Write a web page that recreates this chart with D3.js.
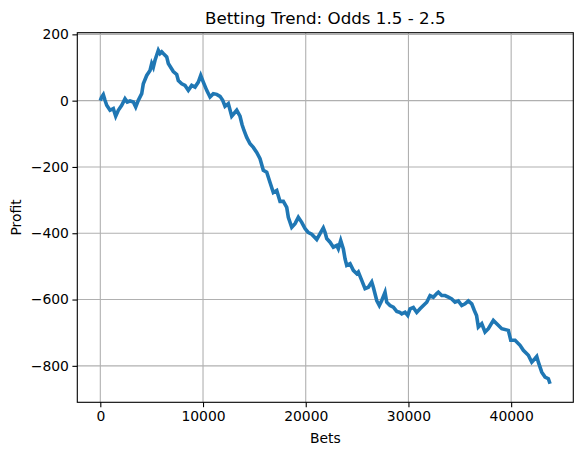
<!DOCTYPE html>
<html>
<head>
<meta charset="utf-8">
<script src="https://cdn.jsdelivr.net/npm/d3@7"></script>
<style>
  body { margin: 0; background: #fff; }
  svg { display: block; font-family: "DejaVu Sans", sans-serif; }
</style>
</head>
<body>
<svg id="chart" width="583" height="455"></svg>
<script>
// Cumulative profit at roughly 300-bet steps.
const bets = [
  0, 117, 292, 458, 623, 945, 1266, 1500, 1753, 2084, 2405, 2629, 2892, 3213, 3447, 3700,
  4031, 4187, 4518, 4839, 5005, 5161, 5326, 5647, 5813, 5978, 6134, 6465, 6621, 6787, 7108,
  7439, 7595, 7926, 8247, 8569, 8900, 9221, 9542, 9776, 10029, 10360, 10682, 11003, 11334,
  11656, 11918, 12142, 12463, 12794, 13281, 13602, 13797, 13992, 14255, 14576, 14898, 15229,
  15550, 15871, 16202, 16524, 16845, 17176, 17497, 17819, 18150, 18305, 18636, 18958, 19279,
  19610, 19931, 20224, 20584, 21071, 21392, 21713, 21879, 22045, 22366, 22687, 23018, 23174,
  23408, 23661, 23827, 23992, 24314, 24635, 24966, 25122, 25453, 25774, 26095, 26426, 26582,
  26913, 27166, 27400, 27721, 27887, 28208, 28529, 28860, 29114, 29347, 29668, 29931, 30155,
  30476, 30807, 31129, 31450, 31781, 32102, 32424, 32755, 32911, 33242, 33563, 33885, 34216,
  34537, 34858, 35189, 35511, 35832, 36163, 36416, 36631, 36806, 37137, 37458, 37780, 38266,
  38597, 39084, 39727, 39961, 40379, 40866, 41187, 41674, 42005, 42326, 42492, 42648, 42979,
  43300, 43621, 43787
];
const profit = [
  0, 10, 18, 1, -14, -29, -24, -47, -29, -14, 6, -4, -1, -4, -19, 1,
  21, 51, 76, 91, 112, 101, 122, 152, 142, 147, 142, 132, 112, 104, 88,
  79, 61, 51, 46, 31, 46, 41, 56, 76, 56, 31, 11, 21, 19,
  13, 1, -17, -9, -47, -29, -47, -72, -90, -111, -130, -141, -156,
  -175, -210, -216, -247, -277, -271, -304, -304, -322, -352, -382, -371, -352,
  -367, -386, -397, -403, -419, -401, -384, -397, -416, -427, -442, -437, -447,
  -422, -447, -477, -497, -492, -512, -522, -517, -542, -567, -563, -547, -563,
  -603, -618, -603, -578, -608, -618, -623, -636, -638, -643, -638, -648, -628,
  -624, -639, -628, -618, -608, -588, -593, -582, -578, -588, -588, -593, -598,
  -608, -604, -618, -613, -604, -613, -633, -648, -683, -673, -698, -688, -663,
  -673, -688, -693, -723, -723, -738, -753, -768, -789, -778, -772, -789, -819,
  -834, -839, -854
];
const xTicks = [0, 10000, 20000, 30000, 40000];
const yTicks = [200, 0, -200, -400, -600, -800];

const svg = d3.select('#chart');
const margin = { left: 77.3, top: 32.7, right: 9.7, bottom: 52.7 };
const W = 583 - margin.left - margin.right;
const H = 455 - margin.top - margin.bottom;

const x = d3.scaleLinear().domain([-2240, 46050]).range([0, W]);
const y = d3.scaleLinear().domain([-910, 205]).range([H, 0]);

const g = svg.append('g').attr('transform', `translate(${margin.left},${margin.top})`);

// Grid lines
g.append('g').selectAll('line').data(xTicks).join('line')
  .attr('x1', d => x(d)).attr('x2', d => x(d))
  .attr('y1', 0).attr('y2', H)
  .attr('stroke', '#b0b0b0').attr('stroke-width', 1.1);
g.append('g').selectAll('line').data(yTicks).join('line')
  .attr('x1', 0).attr('x2', W)
  .attr('y1', d => y(d)).attr('y2', d => y(d))
  .attr('stroke', '#b0b0b0').attr('stroke-width', 1.1);

// The profit line
const pts = bets.map((b, i) => [b, profit[i]]);
g.append('path')
  .datum(pts)
  .attr('fill', 'none')
  .attr('stroke', '#1f77b4')
  .attr('stroke-width', 3.6)
  .attr('stroke-linejoin', 'miter')
  .attr('d', d3.line().x(d => x(d[0])).y(d => y(d[1])));

// Axes
const fmt = d => (d < 0 ? '\u2212' + Math.abs(d) : String(d));
const xAxis = g.append('g').attr('transform', `translate(0,${H})`)
  .call(d3.axisBottom(x).tickValues(xTicks).tickFormat(fmt).tickSizeOuter(0).tickSize(4.9).tickPadding(3.5));
const yAxis = g.append('g')
  .call(d3.axisLeft(y).tickValues(yTicks).tickFormat(fmt).tickSizeOuter(0).tickSize(4.9).tickPadding(3.5));
[xAxis, yAxis].forEach(a => {
  a.select('.domain').remove();
  a.selectAll('.tick line').attr('stroke', '#000').attr('stroke-width', 1.1);
  a.selectAll('.tick text').attr('fill', '#000')
    .style('font-size', '13.9px').style('font-family', '"DejaVu Sans", sans-serif');
});

// Frame
g.append('rect').attr('width', W).attr('height', H)
  .attr('fill', 'none').attr('stroke', '#000').attr('stroke-width', 1.1);

// Labels
svg.append('text')
  .attr('x', margin.left + W / 2).attr('y', 24)
  .attr('text-anchor', 'middle')
  .style('font-size', '16.7px')
  .text('Betting Trend: Odds 1.5 - 2.5');
svg.append('text')
  .attr('x', margin.left + W / 2).attr('y', 443)
  .attr('text-anchor', 'middle')
  .style('font-size', '13.9px')
  .text('Bets');
svg.append('text')
  .attr('transform', `translate(21,${margin.top + H / 2}) rotate(-90)`)
  .attr('text-anchor', 'middle')
  .style('font-size', '13.9px')
  .text('Profit');
</script>
</body>
</html>
